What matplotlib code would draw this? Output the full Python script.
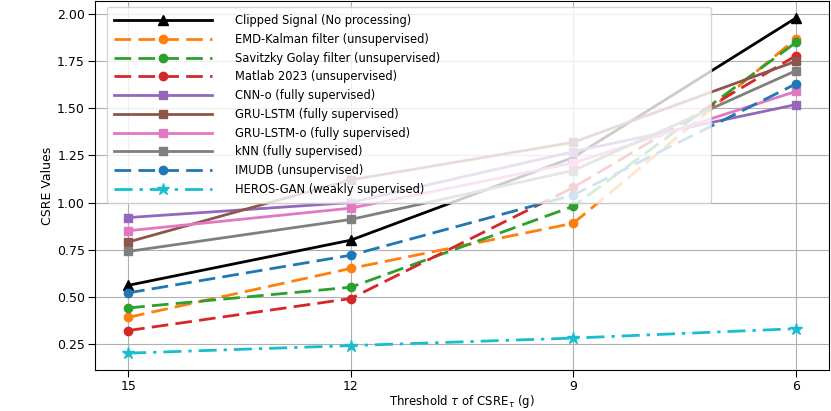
import numpy as np
import matplotlib.pyplot as plt

# Thresholds (g), plotted left to right from strict to loose
thresholds = [15, 12, 9, 6]

clipped = [0.56, 0.80, 1.24, 1.98]
emd_kalman = [0.39, 0.65, 0.89, 1.87]
savitzky = [0.44, 0.55, 0.98, 1.85]
matlab = [0.32, 0.49, 1.08, 1.78]
cnn_o = [0.92, 1.00, 1.27, 1.52]
gru_lstm = [0.79, 1.12, 1.32, 1.75]
gru_lstm_o = [0.85, 0.97, 1.21, 1.59]
knn = [0.74, 0.91, 1.17, 1.70]
imudb = [0.52, 0.72, 1.04, 1.63]
heros_gan = [0.20, 0.24, 0.28, 0.33]

dash = (0, (6, 2.6))
dashdot = (0, (6.5, 2.5, 1.2, 2.5))

plt.rcParams['font.family'] = 'DejaVu Sans'
fig, ax = plt.subplots(figsize=(8.31, 4.11), dpi=100)

ax.plot(thresholds, clipped, color='black', ls='-', marker='^', ms=7, lw=2,
        label='Clipped Signal (No processing)')
ax.plot(thresholds, emd_kalman, color='tab:orange', ls=dash, marker='o', ms=6, lw=2,
        label='EMD-Kalman filter (unsupervised)')
ax.plot(thresholds, savitzky, color='tab:green', ls=dash, marker='o', ms=6, lw=2,
        label='Savitzky Golay filter (unsupervised)')
ax.plot(thresholds, matlab, color='tab:red', ls=dash, marker='o', ms=6, lw=2,
        label='Matlab 2023 (unsupervised)')
ax.plot(thresholds, cnn_o, color='tab:purple', ls='-', marker='s', ms=6, lw=2,
        label='CNN-o (fully supervised)')
ax.plot(thresholds, gru_lstm, color='tab:brown', ls='-', marker='s', ms=6, lw=2,
        label='GRU-LSTM (fully supervised)')
ax.plot(thresholds, gru_lstm_o, color='tab:pink', ls='-', marker='s', ms=6, lw=2,
        label='GRU-LSTM-o (fully supervised)')
ax.plot(thresholds, knn, color='tab:gray', ls='-', marker='s', ms=6, lw=2,
        label='kNN (fully supervised)')
ax.plot(thresholds, imudb, color='tab:blue', ls=dash, marker='o', ms=6, lw=2,
        label='IMUDB (unsupervised)')
ax.plot(thresholds, heros_gan, color='tab:cyan', ls=dashdot, marker='*', ms=9, lw=2,
        label='HEROS-GAN (weakly supervised)')

ax.invert_xaxis()
ax.set_xticks(thresholds)
ax.set_xticklabels([str(t) for t in thresholds])
ax.tick_params(labelsize=9, length=5, pad=2)
ax.grid(True)

ax.set_xlabel(r'Threshold $\tau$ of CSRE$_\tau$ (g)', fontsize=8.5, labelpad=0)
ax.set_ylabel('CSRE Values', fontsize=9, labelpad=2)

ax.legend(loc='upper left', bbox_to_anchor=(0.0163, 0.484, 0.823, 0.5),
          mode='expand', borderaxespad=0, fontsize=8.3, borderpad=0.6,
          handlelength=8.5, handletextpad=2.0, labelspacing=0.5)

fig.subplots_adjust(left=0.114, right=0.998, bottom=0.1, top=0.997)
fig.savefig('out.png', dpi=100)
